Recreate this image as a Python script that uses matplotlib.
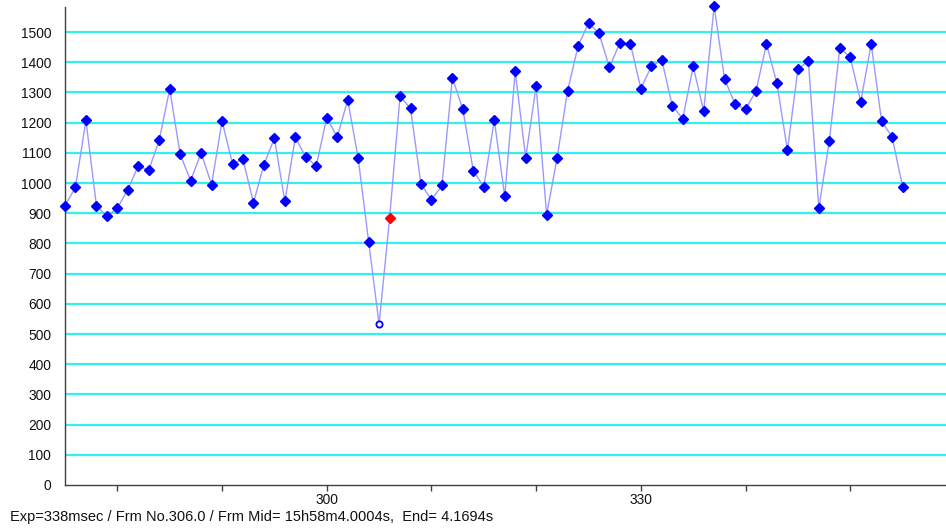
import numpy as np
import matplotlib.pyplot as plt

# frame numbers and measured values
frames = np.arange(275, 356)
values = [
    925, 986, 1208, 925, 890, 917, 978, 1057, 1042, 1143,
    1311, 1095, 1008, 1100, 995, 1205, 1064, 1078, 935, 1061,
    1148, 939, 1151, 1086, 1057, 1217, 1152, 1275, 1083, 806,
    532, 883, 1287, 1247, 997, 944, 992, 1348, 1244, 1040,
    987, 1209, 956, 1370, 1083, 1322, 895, 1083, 1305, 1453,
    1530, 1496, 1383, 1465, 1462, 1313, 1386, 1408, 1256, 1213,
    1386, 1239, 1586, 1344, 1261, 1244, 1305, 1461, 1330, 1108,
    1377, 1404, 917, 1139, 1447, 1417, 1269, 1461, 1204, 1153,
    987,
]
open_frame = 305      # rejected point (hollow)
current_frame = 306   # selected frame (red)

yticks = list(range(0, 1600, 100))
xticks_major = [300, 330]
xticks_all = list(range(280, 360, 10))
info = "Exp=338msec / Frm No.306.0 / Frm Mid= 15h58m4.0004s,  End= 4.1694s"

plt.rcParams['font.family'] = ['Liberation Sans', 'DejaVu Sans']

W, H = 946, 529
fig = plt.figure(figsize=(W / 100, H / 100), dpi=100)
ax = fig.add_axes([65 / W, (H - 485) / H, (W - 65) / W, (485 - 7) / H])

vals = np.array(values, dtype=float)
ax.plot(frames, vals, color='#9999ff', lw=1.0, zorder=3, clip_on=False)

normal = (frames != open_frame) & (frames != current_frame)
ax.plot(frames[normal], vals[normal], 'D', color='#0000ff', ms=4.8,
        mec='#0000ff', zorder=4, clip_on=False)
i_open = frames == open_frame
ax.plot(frames[i_open], vals[i_open], 'o', mfc='white', mec='#0000ff',
        mew=1.3, ms=4.5, zorder=4)
i_cur = frames == current_frame
ax.plot(frames[i_cur], vals[i_cur], 'D', color='#ff0000', ms=4.8, zorder=4)

ax.set_xlim(275, 275 + (W - 65) / 10.47)
ax.set_ylim(0, 1583)

for y in yticks[1:]:
    ax.axhline(y, color='#33f0f0', lw=1.6, zorder=1)

ax.set_yticks(yticks)
ax.set_yticklabels([str(y) for y in yticks], fontsize=9.9, color='#111111')
ax.tick_params(axis='y', length=0, pad=10)

ax.set_xticks(xticks_all)
ax.set_xticklabels([str(x) if x in xticks_major else '' for x in xticks_all],
                   fontsize=9.9, color='#111111')
ax.tick_params(axis='x', length=4, width=1, color='#404040', pad=2,
               direction='out')

for s in ['top', 'right']:
    ax.spines[s].set_visible(False)
for s in ['left', 'bottom']:
    ax.spines[s].set_color('#404040')
    ax.spines[s].set_linewidth(1.0)

fig.text(10 / W, 1 - 517 / H, info, fontsize=10.5, va='center', ha='left',
         color='#111111')

fig.savefig('out.png', dpi=100)
